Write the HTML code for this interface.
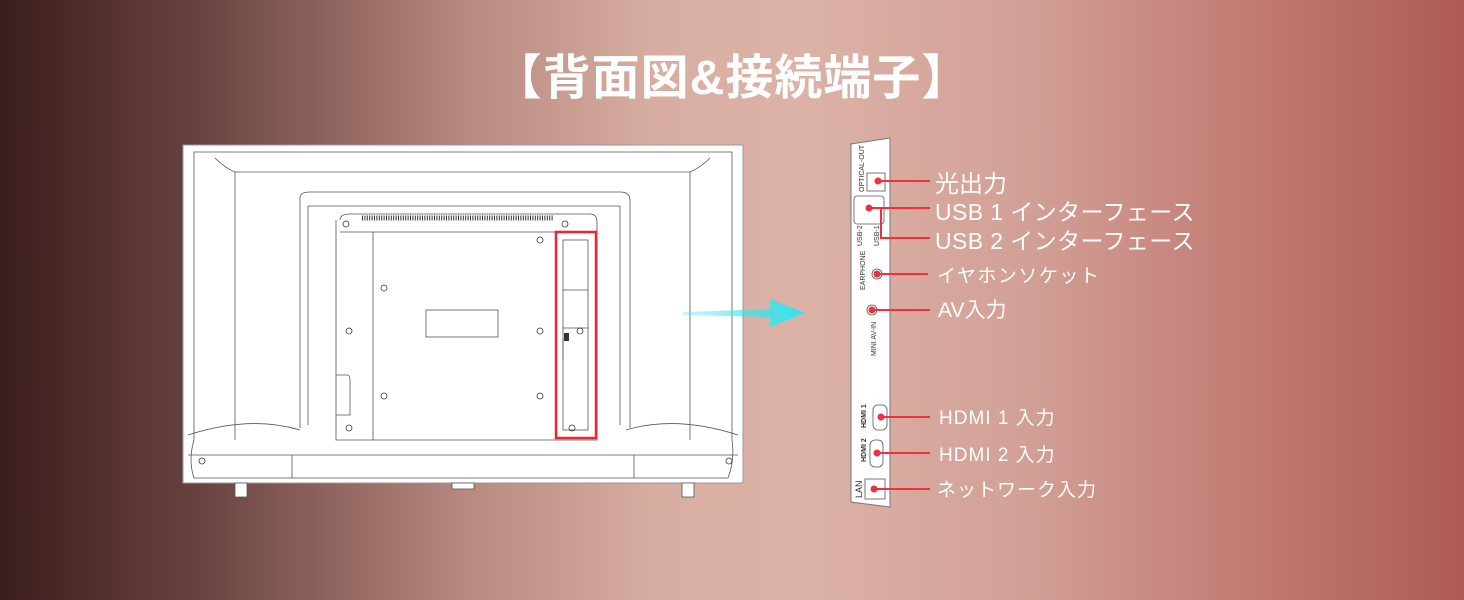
<!DOCTYPE html>
<html><head><meta charset="utf-8"><style>
html,body{margin:0;padding:0}
body{width:1464px;height:600px;overflow:hidden;position:relative;
background:linear-gradient(90deg,#3b1d1d 0%,#6a4340 14%,#b88a80 32%,#d8aea2 45%,#dcb2a6 55%,#d2a096 70%,#c27c74 85%,#ae5a55 100%);
font-family:"Liberation Sans","Noto Sans CJK JP",sans-serif;color:#fff}
.t{position:absolute;white-space:nowrap;color:#fff}
</style></head><body>
<div class="t" style="left:0;width:1464px;text-align:center;top:38px;font-size:48px;font-weight:bold;letter-spacing:1px">【背面図&amp;接続端子】</div>
<svg width="1464" height="600" style="position:absolute;left:0;top:0">
<defs><linearGradient id="cy" x1="0" x2="1"><stop offset="0" stop-color="#3ee8ee" stop-opacity="0.3"/><stop offset="1" stop-color="#2ee6ee"/></linearGradient></defs>
<rect x="183" y="145" width="560" height="338" fill="#fff" stroke="#999"/>
<g fill="none" stroke="#555" stroke-width="0.8">
<path d="M194 152 H732 V440 Q735 460 728 478 H194 Q188 460 194 440 Z"/>
<path d="M235 172 H690 M235 172 V440 M690 172 V440"/>
<path d="M215 158 Q225 168 235 172 M710 158 Q700 168 690 172"/>
<path d="M188 435 Q250 415 300 430 M738 435 Q676 415 626 430"/>
<path d="M188 455 H738"/>
<path d="M300 198 Q300 192 310 192 H620 Q630 192 630 200 V428 M300 198 V428"/>
<path d="M308 206 H620 V425 M308 206 V425"/>
<path d="M340 220 Q340 214 350 214 H590 Q597 214 597 222 V440 H336 V220"/>
<path d="M340 232 H594 M373 232 V440"/>
<rect x="426" y="310" width="72" height="27"/>
<path d="M336 375 H347 Q350 375 350 380 V415 H336"/>
<rect x="563" y="240" width="25" height="190"/>
<path d="M563 290 H588 M563 328 H588 M563 338 V360"/>
<path d="M292 455 V478 M634 455 V478"/>
</g>
<g stroke="#333" stroke-width="1">
<path d="M362 218 H553" stroke-dasharray="1 1.4" stroke-width="5"/>
</g>
<g fill="none" stroke="#333" stroke-width="0.8">
<circle cx="349" cy="331" r="3"/><circle cx="384" cy="288" r="3"/><circle cx="384" cy="396" r="3"/>
<circle cx="540" cy="240" r="3"/><circle cx="540" cy="396" r="3"/><circle cx="540" cy="331" r="3"/>
<circle cx="349" cy="428" r="3"/><circle cx="572" cy="428" r="3"/><circle cx="580" cy="331" r="3"/>
<circle cx="346" cy="224" r="3"/><circle cx="565" cy="224" r="3"/>
<circle cx="202" cy="461" r="3"/><circle cx="729" cy="461" r="3"/>
</g>
<rect x="564" y="333" width="5" height="8" fill="#333"/>
<g fill="#fff" stroke="#555" stroke-width="0.8">
<rect x="235" y="483" width="12" height="14"/><rect x="682" y="483" width="12" height="14"/><rect x="452" y="483" width="22" height="6"/>
</g>
<rect x="556" y="232" width="40" height="206" fill="none" stroke="#e8282e" stroke-width="2.5"/>
<polygon points="683,312 770,309 770,299 805,313 770,327 770,317 683,315" fill="url(#cy)"/>
<path d="M851 144 L890 138 V507 L851 502 Z" fill="#fff" stroke="#777"/>
<g fill="none" stroke="#555" stroke-width="0.8">
<rect x="867" y="173" width="18" height="18"/>
<rect x="854" y="196" width="30" height="28" rx="3"/>
<circle cx="877" cy="274" r="5"/><circle cx="872" cy="310" r="5"/>
<rect x="873" y="405" width="14" height="25" rx="5"/>
<rect x="870" y="440" width="13" height="27" rx="5"/>
<rect x="865" y="479" width="20" height="20"/>
</g>
<g font-family="Liberation Sans,sans-serif" font-size="7" fill="#333">
<text transform="translate(864,192) rotate(-90)">OPTICAL-OUT</text>
<text transform="translate(862,246) rotate(-90)">USB-2</text>
<text transform="translate(879,246) rotate(-90)">USB-1</text>
<text transform="translate(865,290) rotate(-90)">EARPHONE</text>
<text transform="translate(876,356) rotate(-90)">MINI AV-IN</text>
<text transform="translate(866,428) rotate(-90)" font-weight="bold">HDMI 1</text>
<text transform="translate(866,462) rotate(-90)" font-weight="bold">HDMI 2</text>
<text transform="translate(862,498) rotate(-90)" font-size="9">LAN</text>
</g>
<g stroke="#f0303a" stroke-width="2" fill="none">
<path d="M878 181 H930 M869 208 H930 M881 208 V238 H930 M877 274 H928 M872 310 H930 M881 417 H930 M877 453 H930 M874 489 H930"/>
</g>
<g fill="#f0303a">
<circle cx="878" cy="181" r="3.5"/><circle cx="869" cy="208" r="3.5"/><circle cx="877" cy="274" r="3.5"/>
<circle cx="872" cy="310" r="3.5"/><circle cx="881" cy="417" r="3.5"/><circle cx="877" cy="453" r="3.5"/><circle cx="874" cy="489" r="3.5"/>
</g>
</svg>
<div class="t" style="left:935px;top:164px;font-size:24px">光出力</div>
<div class="t" style="left:935px;top:193px;font-size:23px;letter-spacing:0.4px">USB 1 インターフェース</div>
<div class="t" style="left:935px;top:222px;font-size:23px;letter-spacing:0.4px">USB 2 インターフェース</div>
<div class="t" style="left:937px;top:261px;font-size:19px;letter-spacing:1.5px">イヤホンソケット</div>
<div class="t" style="left:938px;top:294px;font-size:21px">AV入力</div>
<div class="t" style="left:939px;top:403px;font-size:19px;letter-spacing:1px">HDMI 1 入力</div>
<div class="t" style="left:939px;top:440px;font-size:19px;letter-spacing:1px">HDMI 2 入力</div>
<div class="t" style="left:937px;top:475px;font-size:19px;letter-spacing:1px">ネットワーク入力</div>
</body></html>
